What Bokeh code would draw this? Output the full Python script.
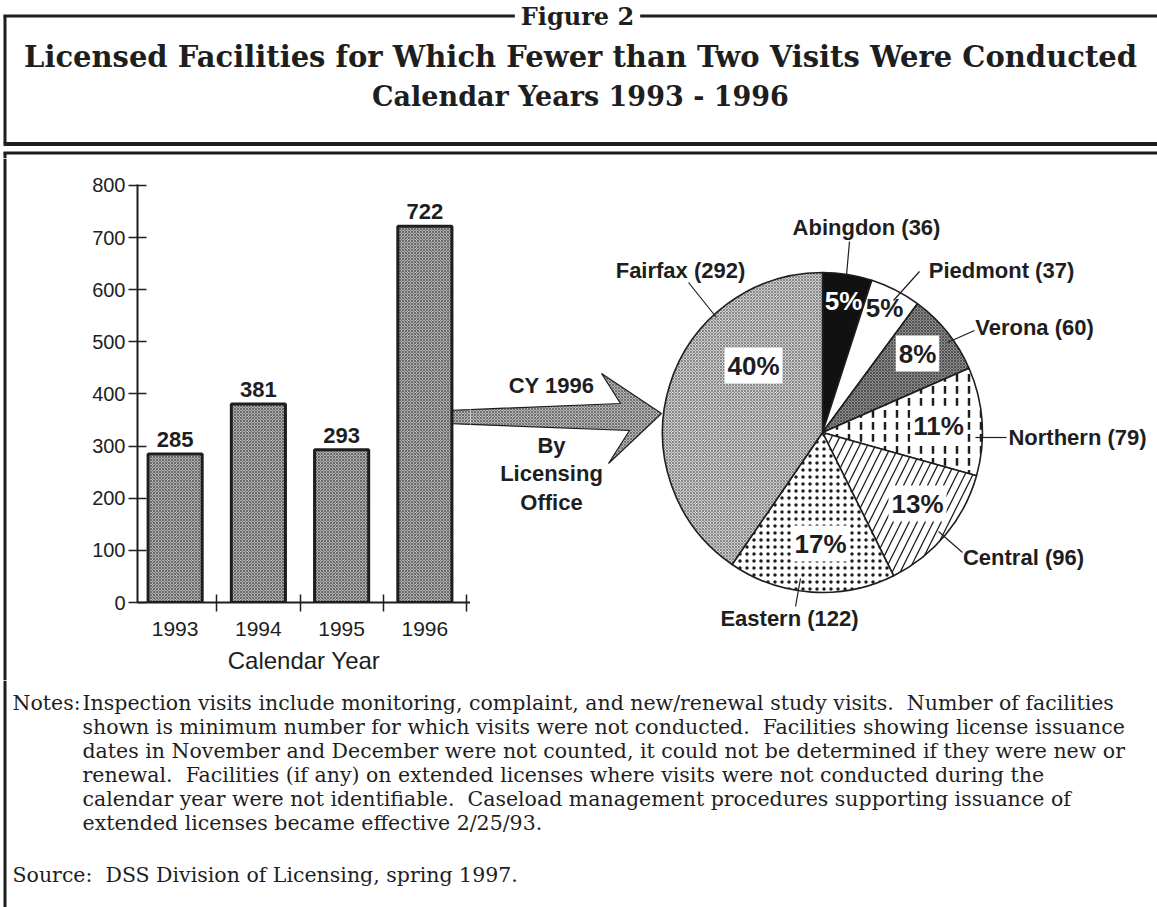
import math
from bokeh.plotting import figure
from bokeh.models import Range1d, ColumnDataSource, FixedTicker
from bokeh.layouts import column, row
from bokeh.embed import file_html
from bokeh.resources import INLINE
from bokeh.core.properties import value

# ---------------- data ----------------
years = ["1993", "1994", "1995", "1996"]
facilities = [285, 381, 293, 722]
y_ticks = [0, 100, 200, 300, 400, 500, 600, 700, 800]

offices = ["Abingdon", "Piedmont", "Verona", "Northern", "Central", "Eastern", "Fairfax"]
office_counts = [36, 37, 60, 79, 96, 122, 292]

figure_label = "Figure 2"
title_lines = ["Licensed Facilities for Which Fewer than Two Visits Were Conducted",
               "Calendar Years 1993 - 1996"]
x_axis_title = "Calendar Year"
arrow_texts = ["CY 1996", "By", "Licensing", "Office"]
notes_head = "Notes:"
notes_lines = [
    "Inspection visits include monitoring, complaint, and new/renewal study visits.\u00a0 Number of facilities",
    "shown is minimum number for which visits were not conducted.\u00a0 Facilities showing license issuance",
    "dates in November and December were not counted, it could not be determined if they were new or",
    "renewal.\u00a0 Facilities (if any) on extended licenses where visits were not conducted during the",
    "calendar year were not identifiable.\u00a0 Caseload management procedures supporting issuance of",
    "extended licenses became effective 2/25/93.",
]
source_line = "Source:\u00a0 DSS Division of Licensing, spring 1997."

# ---------------- layout (page pixel positions) ----------------
PAGE_L, PAGE_R = 0, 1157
HEAD_T, HEAD_B = 0, 158
MID_B = 680
NOTE_B = 907
STRIP_R = 8
SPLIT = 470
BORDER_X = 4.5
INK = "#1e1e1e"
SERIF = "DejaVu Serif"
SANS = "Liberation Sans"

PIE_CX, PIE_CY, PIE_R = 822, 432, 160
label_pos = [(866, 227), (1001, 270), (1034, 327), (1077, 437), (1023, 557), (789, 618), (680, 270)]
leaders = [((849, 241), (846, 275)), ((919, 271), (893, 300)), ((974, 330), (947, 342)),
           ((1006, 437), (975, 437)), ((962, 552), (938, 531)), ((795, 606), (800, 578)),
           ((688, 282), (716, 317))]
pct_pos = [(843, 300), (884, 307), (917, 353), (938, 425), (917, 503), (820, 543), (753, 365)]
arrow_text_pos = [(551, 385), (551, 445), (551, 473), (551, 502)]
arrow_px = [446, 620, 601, 661, 608, 629, 446]
arrow_py = [410, 403, 373, 413, 463, 430, 423]


def no_align(p):
    if "frame_align" in p.properties():
        p.frame_align = False


def page_fig(x0, x1, y0, y1):
    p = figure(width=x1 - x0, height=y1 - y0, x_range=Range1d(x0, x1), y_range=Range1d(-y1, -y0),
               x_axis_type=None, y_axis_type=None, toolbar_location=None, output_backend="svg",
               min_border=0, title=None)
    p.outline_line_color = None
    p.background_fill_color = "white"
    p.border_fill_color = "white"
    no_align(p)
    return p


def hline(p, x0, x1, y, w):
    p.segment(x0=[x0], y0=[-y], x1=[x1], y1=[-y], line_color=INK, line_width=w)


def vline(p, x, y0, y1, w):
    p.segment(x0=[x], y0=[-y0], x1=[x], y1=[-y1], line_color=INK, line_width=w)


# ---------------- header ----------------
head = page_fig(PAGE_L, PAGE_R, HEAD_T, HEAD_B)
hline(head, BORDER_X - 1.5, PAGE_R, 15.5, 3)
hline(head, BORDER_X - 1.5, PAGE_R, 143.5, 4)
hline(head, BORDER_X - 1.5, PAGE_R, 152.5, 3)
vline(head, BORDER_X, 15, 143, 3)
vline(head, BORDER_X, 152, 158, 3)
head.text(x=[577], y=[-15.5], text=[figure_label], text_font=value(SERIF), text_font_style="bold",
          text_font_size="24px", text_align="center", text_baseline="middle", text_color=INK,
          background_fill_color="white", padding=6)
head.text(x=[580], y=[-56], text=[title_lines[0]], text_font=value(SERIF), text_font_style="bold",
          text_font_size="29px", text_align="center", text_baseline="middle", text_color=INK)
head.text(x=[580], y=[-96], text=[title_lines[1]], text_font=value(SERIF), text_font_style="bold",
          text_font_size="27px", text_align="center", text_baseline="middle", text_color=INK)

# ---------------- left strip ----------------
strip = page_fig(PAGE_L, STRIP_R, HEAD_B, MID_B)
vline(strip, BORDER_X, HEAD_B, MID_B, 3)

# ---------------- bar chart ----------------
frame_l, frame_t, frame_b = 137, 184, 602
bar = figure(width=SPLIT - STRIP_R, height=MID_B - HEAD_B,
             x_range=Range1d(0.548, 4.548), y_range=Range1d(0, 801.9),
             toolbar_location=None, output_backend="svg", title=None,
             min_border_left=frame_l - STRIP_R, min_border_right=0,
             min_border_top=frame_t - HEAD_B, min_border_bottom=MID_B - frame_b)
no_align(bar)
bar.outline_line_color = None
bar.grid.visible = False
bar.background_fill_color = "white"
bar.border_fill_color = "white"

bar.extra_x_ranges = {"px": Range1d(frame_l, SPLIT)}
bar.extra_y_ranges = {"py": Range1d(-frame_b, -frame_t)}
bar.patch(x=arrow_px, y=[-v for v in arrow_py], x_range_name="px", y_range_name="py",
          fill_color="#b8b8b8", hatch_pattern="x", hatch_color="#404040", hatch_scale=3,
          hatch_weight=0.6, line_color=INK, line_width=1.2)

centers = list(range(1, len(years) + 1))
bsrc = ColumnDataSource(dict(x=centers, top=facilities, lab=[str(v) for v in facilities]))
bar.vbar(x="x", top="top", width=0.65, bottom=0, source=bsrc, fill_color="#b0b0b0",
         hatch_pattern="x", hatch_color="#3a3a3a", hatch_scale=3, hatch_weight=0.6,
         line_color=INK, line_width=3)
bar.text(x="x", y="top", text="lab", source=bsrc, text_align="center", text_baseline="bottom",
         y_offset=-7, text_font=value(SANS), text_font_style="bold", text_font_size="22px",
         text_color=INK)

xa = bar.xaxis[0]
xa.ticker = FixedTicker(ticks=centers, minor_ticks=[c + 0.5 for c in centers])
xa.major_label_overrides = {c: y for c, y in zip(centers, years)}
xa.major_tick_in = 0
xa.major_tick_out = 0
xa.minor_tick_in = 8
xa.minor_tick_out = 9
xa.minor_tick_line_width = 1.5
xa.minor_tick_line_color = INK
xa.axis_line_width = 2
xa.axis_line_color = INK
xa.major_label_standoff = 10
xa.major_label_text_font = SANS
xa.major_label_text_font_size = "21px"
xa.major_label_text_color = INK
xa.axis_label = x_axis_title
xa.axis_label_text_font = SANS
xa.axis_label_text_font_style = "normal"
xa.axis_label_text_font_size = "24px"
xa.axis_label_text_color = INK
xa.axis_label_standoff = 8

ya = bar.yaxis[0]
ya.ticker = FixedTicker(ticks=y_ticks)
ya.major_tick_in = 9
ya.major_tick_out = 9
ya.major_tick_line_width = 1.5
ya.major_tick_line_color = INK
ya.minor_tick_line_color = None
ya.axis_line_width = 2
ya.axis_line_color = INK
ya.major_label_standoff = 3
ya.major_label_text_font = SANS
ya.major_label_text_font_size = "20px"
ya.major_label_text_color = INK

# ---------------- pie chart ----------------
pie = page_fig(SPLIT, PAGE_R, HEAD_B, MID_B)
pie.patch(x=arrow_px, y=[-v for v in arrow_py], fill_color="#b8b8b8", hatch_pattern="x",
          hatch_color="#404040", hatch_scale=3, hatch_weight=0.6, line_color=INK, line_width=1.2)
pie.text(x=[p[0] for p in arrow_text_pos], y=[-p[1] for p in arrow_text_pos], text=arrow_texts,
         text_font=value(SANS), text_font_style="bold", text_font_size="22px",
         text_align="center", text_baseline="middle", text_color=INK)

total = sum(office_counts)
cum = [0]
for v in office_counts:
    cum.append(cum[-1] + v)
starts = [math.pi / 2 - 2 * math.pi * cum[i + 1] / total for i in range(len(office_counts))]
ends = [math.pi / 2 - 2 * math.pi * cum[i] / total for i in range(len(office_counts))]
fills = ["#111111", "white", "#8c8c8c", "white", "white", "white", "#cfcfcf"]
hatches = [" ", " ", "x", ":", "/", ".", "x"]
hcolors = [INK, INK, "#2a2a2a", INK, INK, INK, "#555555"]
hscales = [6, 6, 3, 12, 16, 7, 3]
hweights = [1, 1, 0.6, 2.5, 1.3, 1.5, 0.6]
psrc = ColumnDataSource(dict(x=[PIE_CX] * len(offices), y=[-PIE_CY] * len(offices),
                             s=starts, e=ends, fill=fills, hp=hatches, hc=hcolors,
                             hs=hscales, hw=hweights))
pie.wedge(x="x", y="y", radius=PIE_R, start_angle="s", end_angle="e", source=psrc,
          fill_color="fill", hatch_pattern="hp", hatch_color="hc", hatch_scale="hs",
          hatch_weight="hw", line_color=INK, line_width=1.6)

for (a, b) in leaders:
    pie.line(x=[a[0], b[0]], y=[-a[1], -b[1]], line_color=INK, line_width=1.2)

pie.text(x=[p[0] for p in label_pos], y=[-p[1] for p in label_pos],
         text=[f"{n} ({c})" for n, c in zip(offices, office_counts)],
         text_font=value(SANS), text_font_style="bold", text_font_size="22px",
         text_align="center", text_baseline="middle", text_color=INK)

pcts = [f"{round(100 * c / total)}%" for c in office_counts]
pct_bg = [None, None, "white", "white", "white", "white", "white"]
pct_col = ["white", INK, INK, INK, INK, INK, INK]
tsrc = ColumnDataSource(dict(x=[p[0] for p in pct_pos], y=[-p[1] for p in pct_pos],
                             t=pcts, bg=pct_bg, c=pct_col))
pie.text(x="x", y="y", text="t", source=tsrc, text_font=value(SANS), text_font_style="bold",
         text_font_size="26px", text_align="center", text_baseline="middle", text_color="c",
         background_fill_color="bg", padding=3)

# ---------------- notes ----------------
notes = page_fig(PAGE_L, PAGE_R, MID_B, NOTE_B)
vline(notes, BORDER_X, MID_B, NOTE_B, 3)
note_ys = [702, 726, 750, 774, 798, 822]
NOTE_FS = "20.5px"
notes.text(x=[12], y=[-note_ys[0]], text=[notes_head], text_font=value(SERIF),
           text_font_size=NOTE_FS, text_align="left", text_baseline="middle", text_color=INK)
notes.text(x=[82] * len(notes_lines), y=[-v for v in note_ys], text=notes_lines,
           text_font=value(SERIF), text_font_size=NOTE_FS, text_align="left",
           text_baseline="middle", text_color=INK)
notes.text(x=[12], y=[-874], text=[source_line], text_font=value(SERIF),
           text_font_size=NOTE_FS, text_align="left", text_baseline="middle", text_color=INK)

layout = column(head, row(strip, bar, pie, spacing=0), notes, spacing=0)

with open("out.html", "w") as f:
    f.write(file_html(layout, INLINE))
